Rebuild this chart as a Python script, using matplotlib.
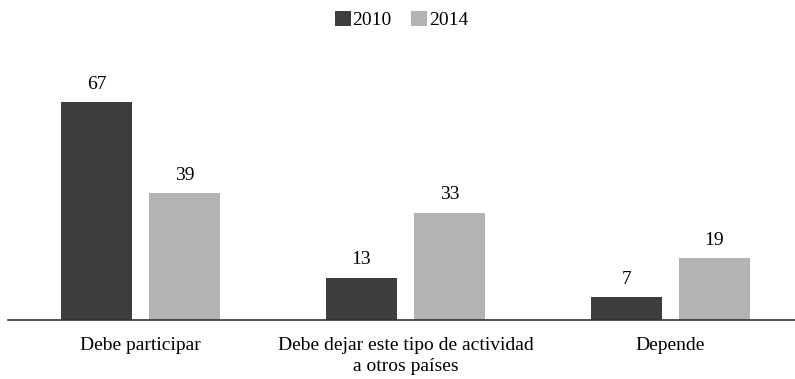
import matplotlib
matplotlib.use("Agg")
import matplotlib.pyplot as plt
import numpy as np

plt.rcParams['font.family'] = ['Liberation Serif', 'DejaVu Serif']

categories = ["Debe participar", "Debe dejar este tipo de actividad\na otros países", "Depende"]
series_names = ["2010", "2014"]
values_2010 = [67, 13, 7]
values_2014 = [39, 33, 19]
colors = ["#3d3d3b", "#b3b3b3"]

fig = plt.figure(figsize=(7.95, 3.79), dpi=100)
ax = fig.add_axes([8/795, 59/379, 795/795, 260/379])

x = np.arange(len(categories))
width = 0.268
offset = 0.166
for vals, name, col, sign in zip([values_2010, values_2014], series_names, colors, [-1, 1]):
    bars = ax.bar(x + sign * offset, vals, width, color=col, label=name)
    for b, v in zip(bars, vals):
        ax.annotate(f"{v}", (b.get_x() + b.get_width() / 2, v), xytext=(0, 7),
                    textcoords="offset points", ha="center", va="bottom", fontsize=14)

ax.set_xlim(-0.5, 2.5)
ax.set_ylim(0, 80)
ax.set_yticks([])
ax.set_xticks(x)
ax.set_xticklabels(categories, fontsize=14, linespacing=1.35)
ax.tick_params(axis='x', length=0, pad=12)
for s in ["top", "right", "left"]:
    ax.spines[s].set_visible(False)
ax.spines["bottom"].set_color("#333333")
ax.spines["bottom"].set_linewidth(1.2)

fig.legend(loc="upper center", bbox_to_anchor=(0.505, 1.0), ncol=2, frameon=False,
           fontsize=14, handlelength=0.8, handleheight=0.8, handletextpad=0.1,
           columnspacing=1.0, borderaxespad=0.15)

fig.savefig("out.png", dpi=100)
